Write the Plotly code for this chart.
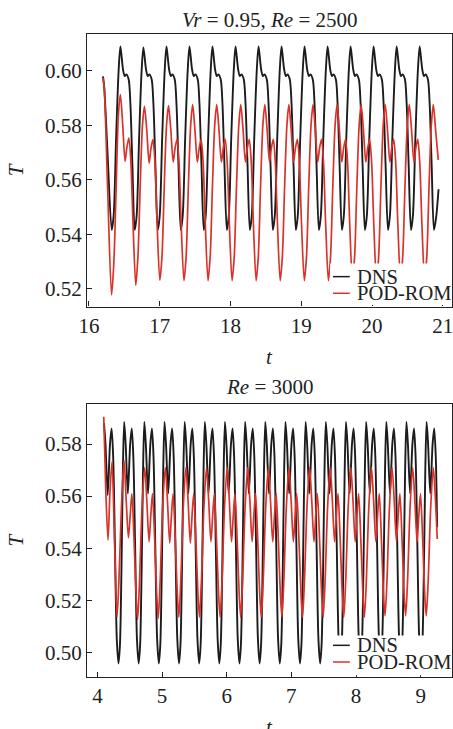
import plotly.graph_objects as go
from plotly.subplots import make_subplots

# ---------------- Panel A: Vr = 0.95, Re = 2500 ----------------
t_dns_a = [
    16.198, 16.215, 16.262,
    16.321, 16.349, 16.383, 16.419, 16.444, 16.481, 16.505, 16.529, 16.561, 16.585, 16.614,
    16.646, 16.674, 16.708, 16.744, 16.769, 16.806, 16.830, 16.854, 16.886, 16.910, 16.939,
    16.972, 17.000, 17.034, 17.070, 17.095, 17.132, 17.156, 17.180, 17.212, 17.236, 17.265,
    17.297, 17.325, 17.359, 17.395, 17.420, 17.457, 17.481, 17.505, 17.537, 17.561, 17.590,
    17.622, 17.650, 17.684, 17.720, 17.745, 17.782, 17.806, 17.830, 17.862, 17.886, 17.915,
    17.948, 17.976, 18.010, 18.046, 18.071, 18.108, 18.132, 18.156, 18.188, 18.212, 18.241,
    18.273, 18.301, 18.335, 18.371, 18.396, 18.433, 18.457, 18.481, 18.513, 18.537, 18.566,
    18.598, 18.626, 18.660, 18.696, 18.721, 18.758, 18.782, 18.806, 18.838, 18.862, 18.891,
    18.923, 18.951, 18.985, 19.021, 19.046, 19.083, 19.107, 19.131, 19.163, 19.187, 19.216,
    19.249, 19.277, 19.311, 19.347, 19.372, 19.409, 19.433, 19.457, 19.489, 19.513, 19.542,
    19.574, 19.602, 19.636, 19.672, 19.697, 19.734, 19.758, 19.782, 19.814, 19.838, 19.867,
    19.899, 19.927, 19.961, 19.997, 20.022, 20.059, 20.083, 20.107, 20.139, 20.163, 20.192,
    20.225, 20.253, 20.287, 20.323, 20.348, 20.385, 20.409, 20.433, 20.465, 20.489, 20.518,
    20.550, 20.578, 20.612, 20.648, 20.673, 20.710, 20.734, 20.758, 20.790, 20.814, 20.843,
    20.875, 20.905, 20.940,
]
T_dns_a = [
    0.5979, 0.5940, 0.5700,
    0.5416, 0.5470, 0.5750, 0.6000, 0.6088, 0.6004, 0.5980, 0.5986, 0.5967, 0.5880, 0.5650,
    0.5416, 0.5470, 0.5750, 0.6000, 0.6085, 0.6004, 0.5980, 0.5986, 0.5967, 0.5880, 0.5650,
    0.5416, 0.5470, 0.5750, 0.6000, 0.6088, 0.6004, 0.5980, 0.5986, 0.5967, 0.5880, 0.5650,
    0.5416, 0.5470, 0.5750, 0.6000, 0.6088, 0.6004, 0.5980, 0.5986, 0.5967, 0.5880, 0.5650,
    0.5416, 0.5470, 0.5750, 0.6000, 0.6088, 0.6004, 0.5980, 0.5986, 0.5967, 0.5880, 0.5650,
    0.5416, 0.5470, 0.5750, 0.6000, 0.6088, 0.6004, 0.5980, 0.5986, 0.5967, 0.5880, 0.5650,
    0.5416, 0.5470, 0.5750, 0.6000, 0.6088, 0.6004, 0.5980, 0.5986, 0.5967, 0.5880, 0.5650,
    0.5416, 0.5470, 0.5750, 0.6000, 0.6088, 0.6004, 0.5980, 0.5986, 0.5967, 0.5880, 0.5650,
    0.5416, 0.5470, 0.5750, 0.6000, 0.6088, 0.6004, 0.5980, 0.5986, 0.5967, 0.5880, 0.5650,
    0.5416, 0.5470, 0.5750, 0.6000, 0.6088, 0.6004, 0.5980, 0.5986, 0.5967, 0.5880, 0.5650,
    0.5416, 0.5470, 0.5750, 0.6000, 0.6088, 0.6004, 0.5980, 0.5986, 0.5967, 0.5880, 0.5650,
    0.5416, 0.5470, 0.5750, 0.6000, 0.6088, 0.6004, 0.5980, 0.5986, 0.5967, 0.5880, 0.5650,
    0.5416, 0.5470, 0.5750, 0.6000, 0.6088, 0.6004, 0.5980, 0.5986, 0.5967, 0.5880, 0.5650,
    0.5416, 0.5470, 0.5750, 0.6000, 0.6088, 0.6004, 0.5980, 0.5986, 0.5967, 0.5880, 0.5650,
    0.5416, 0.5460, 0.5565,
]

t_rom_a = [
    16.198, 16.215, 16.262,
    16.319, 16.352, 16.383, 16.416, 16.444, 16.477, 16.510, 16.536, 16.564, 16.593, 16.621,
    16.661, 16.692, 16.723, 16.756, 16.784, 16.817, 16.850, 16.876, 16.904, 16.933, 16.961,
    17.001, 17.032, 17.063, 17.096, 17.124, 17.157, 17.190, 17.216, 17.244, 17.273, 17.301,
    17.342, 17.373, 17.404, 17.437, 17.465, 17.498, 17.531, 17.557, 17.585, 17.614, 17.642,
    17.682, 17.713, 17.744, 17.777, 17.805, 17.838, 17.871, 17.897, 17.925, 17.954, 17.982,
    18.022, 18.053, 18.084, 18.117, 18.145, 18.178, 18.211, 18.237, 18.265, 18.294, 18.322,
    18.362, 18.393, 18.424, 18.457, 18.485, 18.518, 18.551, 18.577, 18.605, 18.634, 18.662,
    18.702, 18.733, 18.764, 18.797, 18.825, 18.858, 18.891, 18.917, 18.945, 18.974, 19.002,
    19.043, 19.074, 19.105, 19.138, 19.166, 19.199, 19.232, 19.258, 19.286, 19.315, 19.343,
    19.383, 19.414, 19.445, 19.478, 19.506, 19.539, 19.572, 19.598, 19.626, 19.655, 19.683,
    19.723, 19.754, 19.785, 19.818, 19.846, 19.879, 19.912, 19.938, 19.966, 19.995, 20.023,
    20.063, 20.094, 20.125, 20.158, 20.186, 20.219, 20.252, 20.278, 20.306, 20.335, 20.363,
    20.403, 20.434, 20.465, 20.498, 20.526, 20.559, 20.592, 20.618, 20.646, 20.675, 20.703,
    20.743, 20.774, 20.805, 20.838, 20.866, 20.899, 20.936,
]
T_rom_a = [
    0.5973, 0.5940, 0.5580,
    0.5178, 0.5300, 0.5560, 0.5840, 0.5912, 0.5800, 0.5667, 0.5720, 0.5753, 0.5660, 0.5450,
    0.5214, 0.5320, 0.5570, 0.5800, 0.5869, 0.5780, 0.5661, 0.5715, 0.5747, 0.5660, 0.5450,
    0.5232, 0.5320, 0.5570, 0.5800, 0.5872, 0.5780, 0.5665, 0.5715, 0.5748, 0.5660, 0.5450,
    0.5230, 0.5320, 0.5570, 0.5800, 0.5875, 0.5780, 0.5665, 0.5715, 0.5748, 0.5660, 0.5450,
    0.5230, 0.5320, 0.5570, 0.5800, 0.5875, 0.5780, 0.5665, 0.5715, 0.5748, 0.5660, 0.5450,
    0.5230, 0.5320, 0.5570, 0.5800, 0.5875, 0.5780, 0.5665, 0.5715, 0.5748, 0.5660, 0.5450,
    0.5230, 0.5320, 0.5570, 0.5800, 0.5875, 0.5780, 0.5665, 0.5715, 0.5748, 0.5660, 0.5450,
    0.5230, 0.5320, 0.5570, 0.5800, 0.5875, 0.5780, 0.5665, 0.5715, 0.5748, 0.5660, 0.5450,
    0.5230, 0.5320, 0.5570, 0.5800, 0.5875, 0.5780, 0.5665, 0.5715, 0.5748, 0.5660, 0.5450,
    0.5230, 0.5320, 0.5570, 0.5800, 0.5875, 0.5780, 0.5665, 0.5715, 0.5748, 0.5660, 0.5450,
    0.5230, 0.5320, 0.5570, 0.5800, 0.5875, 0.5780, 0.5665, 0.5715, 0.5748, 0.5660, 0.5450,
    0.5230, 0.5320, 0.5570, 0.5800, 0.5875, 0.5780, 0.5665, 0.5715, 0.5748, 0.5660, 0.5450,
    0.5230, 0.5320, 0.5570, 0.5800, 0.5875, 0.5780, 0.5665, 0.5715, 0.5748, 0.5660, 0.5450,
    0.5230, 0.5320, 0.5570, 0.5800, 0.5875, 0.5780, 0.5673,
]

# ---------------- Panel B: Re = 3000 ----------------
t_dns_b = [
    4.102, 4.125, 4.159, 4.195, 4.220, 4.244, 4.272, 4.300,
    4.326, 4.349, 4.371, 4.394, 4.414, 4.437, 4.471, 4.507, 4.532, 4.556, 4.584, 4.612,
    4.638, 4.661, 4.683, 4.706, 4.726, 4.749, 4.783, 4.819, 4.844, 4.868, 4.896, 4.924,
    4.950, 4.973, 4.995, 5.018, 5.038, 5.061, 5.095, 5.131, 5.156, 5.180, 5.208, 5.236,
    5.262, 5.285, 5.307, 5.330, 5.350, 5.373, 5.407, 5.443, 5.468, 5.492, 5.520, 5.548,
    5.574, 5.597, 5.619, 5.642, 5.662, 5.685, 5.719, 5.755, 5.780, 5.804, 5.832, 5.860,
    5.885, 5.908, 5.930, 5.953, 5.973, 5.996, 6.030, 6.066, 6.091, 6.115, 6.143, 6.171,
    6.197, 6.220, 6.242, 6.265, 6.285, 6.308, 6.342, 6.378, 6.403, 6.427, 6.455, 6.483,
    6.509, 6.532, 6.554, 6.577, 6.597, 6.620, 6.654, 6.690, 6.715, 6.739, 6.767, 6.795,
    6.821, 6.844, 6.866, 6.889, 6.909, 6.932, 6.966, 7.002, 7.027, 7.051, 7.079, 7.107,
    7.133, 7.156, 7.178, 7.201, 7.221, 7.244, 7.278, 7.314, 7.339, 7.363, 7.391, 7.419,
    7.445, 7.468, 7.490, 7.513, 7.533, 7.556, 7.590, 7.626, 7.651, 7.675, 7.703, 7.731,
    7.757, 7.780, 7.802, 7.825, 7.845, 7.868, 7.902, 7.938, 7.963, 7.987, 8.015, 8.043,
    8.069, 8.092, 8.114, 8.137, 8.157, 8.180, 8.214, 8.250, 8.275, 8.299, 8.327, 8.355,
    8.381, 8.404, 8.426, 8.449, 8.469, 8.492, 8.526, 8.562, 8.587, 8.611, 8.639, 8.667,
    8.692, 8.715, 8.737, 8.760, 8.780, 8.803, 8.837, 8.873, 8.898, 8.922, 8.950, 8.978,
    9.004, 9.027, 9.049, 9.072, 9.092, 9.115, 9.149, 9.185, 9.210, 9.234, 9.255,
]
T_dns_b = [
    0.5880, 0.5800, 0.5604, 0.5800, 0.5860, 0.5750, 0.5400, 0.5050,
    0.4957, 0.5030, 0.5300, 0.5700, 0.5885, 0.5800, 0.5610, 0.5800, 0.5860, 0.5750, 0.5400, 0.5050,
    0.4957, 0.5030, 0.5300, 0.5700, 0.5885, 0.5800, 0.5610, 0.5800, 0.5860, 0.5750, 0.5400, 0.5050,
    0.4957, 0.5030, 0.5300, 0.5700, 0.5885, 0.5800, 0.5610, 0.5800, 0.5860, 0.5750, 0.5400, 0.5050,
    0.4957, 0.5030, 0.5300, 0.5700, 0.5885, 0.5800, 0.5610, 0.5800, 0.5860, 0.5750, 0.5400, 0.5050,
    0.4957, 0.5030, 0.5300, 0.5700, 0.5885, 0.5800, 0.5610, 0.5800, 0.5860, 0.5750, 0.5400, 0.5050,
    0.4957, 0.5030, 0.5300, 0.5700, 0.5885, 0.5800, 0.5610, 0.5800, 0.5860, 0.5750, 0.5400, 0.5050,
    0.4957, 0.5030, 0.5300, 0.5700, 0.5885, 0.5800, 0.5610, 0.5800, 0.5860, 0.5750, 0.5400, 0.5050,
    0.4957, 0.5030, 0.5300, 0.5700, 0.5885, 0.5800, 0.5610, 0.5800, 0.5860, 0.5750, 0.5400, 0.5050,
    0.4957, 0.5030, 0.5300, 0.5700, 0.5885, 0.5800, 0.5610, 0.5800, 0.5860, 0.5750, 0.5400, 0.5050,
    0.4957, 0.5030, 0.5300, 0.5700, 0.5885, 0.5800, 0.5610, 0.5800, 0.5860, 0.5750, 0.5400, 0.5050,
    0.4957, 0.5030, 0.5300, 0.5700, 0.5885, 0.5800, 0.5610, 0.5800, 0.5860, 0.5750, 0.5400, 0.5050,
    0.4957, 0.5030, 0.5300, 0.5700, 0.5885, 0.5800, 0.5610, 0.5800, 0.5860, 0.5750, 0.5400, 0.5050,
    0.4957, 0.5030, 0.5300, 0.5700, 0.5885, 0.5800, 0.5610, 0.5800, 0.5860, 0.5750, 0.5400, 0.5050,
    0.4957, 0.5030, 0.5300, 0.5700, 0.5885, 0.5800, 0.5610, 0.5800, 0.5860, 0.5750, 0.5400, 0.5050,
    0.4957, 0.5030, 0.5300, 0.5700, 0.5885, 0.5800, 0.5610, 0.5800, 0.5860, 0.5750, 0.5400, 0.5050,
    0.4957, 0.5030, 0.5300, 0.5700, 0.5885, 0.5800, 0.5610, 0.5800, 0.5860, 0.5750, 0.5480,
]

t_rom_b = [
    4.098, 4.130, 4.164, 4.195, 4.226, 4.262,
    4.303, 4.332, 4.372, 4.412, 4.446, 4.480, 4.508, 4.533, 4.567, 4.597,
    4.622, 4.651, 4.691, 4.731, 4.765, 4.799, 4.827, 4.852, 4.886, 4.916,
    4.941, 4.970, 5.010, 5.050, 5.084, 5.118, 5.146, 5.171, 5.205, 5.235,
    5.260, 5.289, 5.329, 5.369, 5.403, 5.437, 5.465, 5.490, 5.524, 5.554,
    5.579, 5.608, 5.648, 5.688, 5.722, 5.756, 5.784, 5.809, 5.843, 5.873,
    5.898, 5.927, 5.967, 6.007, 6.041, 6.075, 6.103, 6.128, 6.162, 6.192,
    6.216, 6.245, 6.285, 6.325, 6.359, 6.393, 6.421, 6.446, 6.480, 6.510,
    6.535, 6.564, 6.604, 6.644, 6.678, 6.712, 6.740, 6.765, 6.799, 6.829,
    6.854, 6.883, 6.923, 6.963, 6.997, 7.031, 7.059, 7.084, 7.118, 7.148,
    7.173, 7.202, 7.242, 7.282, 7.316, 7.350, 7.378, 7.403, 7.437, 7.467,
    7.492, 7.521, 7.561, 7.601, 7.635, 7.669, 7.697, 7.722, 7.756, 7.786,
    7.811, 7.840, 7.880, 7.920, 7.954, 7.988, 8.016, 8.041, 8.075, 8.105,
    8.130, 8.159, 8.199, 8.239, 8.273, 8.307, 8.335, 8.360, 8.394, 8.424,
    8.449, 8.478, 8.518, 8.558, 8.592, 8.626, 8.654, 8.679, 8.713, 8.743,
    8.768, 8.797, 8.837, 8.877, 8.911, 8.945, 8.973, 8.998, 9.032, 9.062,
    9.087, 9.116, 9.156, 9.196, 9.230, 9.257,
]
T_rom_b = [
    0.5905, 0.5620, 0.5431, 0.5620, 0.5732, 0.5450,
    0.5136, 0.5270, 0.5560, 0.5738, 0.5580, 0.5440, 0.5530, 0.5610, 0.5430, 0.5230,
    0.5125, 0.5270, 0.5560, 0.5710, 0.5580, 0.5425, 0.5530, 0.5610, 0.5430, 0.5230,
    0.5130, 0.5270, 0.5560, 0.5710, 0.5580, 0.5420, 0.5530, 0.5610, 0.5430, 0.5230,
    0.5135, 0.5270, 0.5560, 0.5710, 0.5580, 0.5420, 0.5530, 0.5610, 0.5430, 0.5230,
    0.5135, 0.5270, 0.5560, 0.5710, 0.5580, 0.5425, 0.5530, 0.5610, 0.5430, 0.5230,
    0.5135, 0.5270, 0.5560, 0.5710, 0.5580, 0.5425, 0.5530, 0.5610, 0.5430, 0.5230,
    0.5135, 0.5270, 0.5560, 0.5710, 0.5580, 0.5425, 0.5530, 0.5610, 0.5430, 0.5230,
    0.5135, 0.5270, 0.5560, 0.5710, 0.5580, 0.5425, 0.5530, 0.5610, 0.5430, 0.5230,
    0.5135, 0.5270, 0.5560, 0.5710, 0.5580, 0.5425, 0.5530, 0.5610, 0.5430, 0.5230,
    0.5135, 0.5270, 0.5560, 0.5710, 0.5580, 0.5425, 0.5530, 0.5610, 0.5430, 0.5230,
    0.5135, 0.5270, 0.5560, 0.5710, 0.5580, 0.5425, 0.5530, 0.5610, 0.5430, 0.5230,
    0.5135, 0.5270, 0.5560, 0.5710, 0.5580, 0.5425, 0.5530, 0.5610, 0.5430, 0.5230,
    0.5135, 0.5270, 0.5560, 0.5710, 0.5580, 0.5425, 0.5530, 0.5610, 0.5430, 0.5230,
    0.5140, 0.5270, 0.5560, 0.5710, 0.5580, 0.5425, 0.5530, 0.5610, 0.5430, 0.5230,
    0.5140, 0.5270, 0.5560, 0.5710, 0.5580, 0.5425, 0.5530, 0.5610, 0.5430, 0.5230,
    0.5140, 0.5270, 0.5560, 0.5710, 0.5580, 0.5435,
]

series_names = ["DNS", "POD-ROM"]
panel_titles = ["<i>Vr</i> = 0.95, <i>Re</i> = 2500", "<i>Re</i> = 3000"]
xticks_a = [16, 17, 18, 19, 20, 21]
yticks_a = [0.52, 0.54, 0.56, 0.58, 0.60]
xticks_b = [4, 5, 6, 7, 8, 9]
yticks_b = [0.50, 0.52, 0.54, 0.56, 0.58]

BLACK = "#1c1c1c"
RED = "#d8332b"
FONT = "Liberation Serif, Times New Roman, serif"
TXT = "#222"

fig = make_subplots(rows=2, cols=1)
for (tx, ty, name, col, w, r) in [
    (t_dns_a, T_dns_a, series_names[0], BLACK, 1.9, 1),
    (t_rom_a, T_rom_a, series_names[1], RED, 1.7, 1),
    (t_dns_b, T_dns_b, series_names[0], BLACK, 1.9, 2),
    (t_rom_b, T_rom_b, series_names[1], RED, 1.7, 2),
]:
    fig.add_trace(go.Scatter(x=tx, y=ty, mode="lines", name=name,
                             line=dict(color=col, width=w, shape="spline", smoothing=0.8)),
                  row=r, col=1)

fig.update_layout(
    width=453, height=729,
    margin=dict(l=87, r=1, t=34, b=52),
    paper_bgcolor="white", plot_bgcolor="white",
    showlegend=False,
    font=dict(family=FONT, size=21, color=TXT),
    xaxis=dict(domain=[0, 1], range=[15.972, 21.13], tickvals=xticks_a),
    yaxis=dict(domain=[0.576, 1.0], range=[0.5135, 0.6134], tickvals=yticks_a, tickformat=".2f"),
    xaxis2=dict(domain=[0, 1], range=[3.839, 9.485], tickvals=xticks_b),
    yaxis2=dict(domain=[0.0, 0.4246], range=[0.4905, 0.5954], tickvals=yticks_b, tickformat=".2f"),
)
common = dict(showline=True, mirror=True, linecolor=TXT, linewidth=1.3,
              ticks="inside", ticklen=5, tickwidth=1.2, tickcolor=TXT,
              showgrid=False, zeroline=False, ticklabeloverflow="allow",
              tickfont=dict(family=FONT, size=21, color=TXT))
fig.update_xaxes(**common)
fig.update_yaxes(**common)

annotations = []
shapes = []
legend_y = [(0.110, 0.049, 0.158), (0.116, 0.055, 0.152)]
for i, (xr, yr) in enumerate([("x", "y"), ("x2", "y2")]):
    xd, yd = xr + " domain", yr + " domain"
    annotations.append(dict(xref=xd, yref=yd, x=0.5, y=1, yshift=14 if i == 0 else 17,
                            text=panel_titles[i], showarrow=False, yanchor="middle",
                            font=dict(family=FONT, size=21, color=TXT)))
    annotations.append(dict(xref=xd, yref=yd, x=0.5, y=0, yshift=-50,
                            text="<i>t</i>", showarrow=False, yanchor="middle",
                            font=dict(family=FONT, size=21, color=TXT)))
    annotations.append(dict(xref=xd, yref=yd, x=0, y=0.5, xshift=-71,
                            text="<i>T</i>", showarrow=False, textangle=-90,
                            xanchor="center", yanchor="middle",
                            font=dict(family=FONT, size=21, color=TXT)))
    y1, y2, ytop = legend_y[i]
    shapes.append(dict(type="rect", xref=xd, yref=yd, x0=0.666, x1=0.996, y0=0.006, y1=ytop,
                       fillcolor="white", line=dict(width=0), layer="above"))
    for yy, col, name in [(y1, BLACK, series_names[0]), (y2, RED, series_names[1])]:
        shapes.append(dict(type="line", xref=xd, yref=yd, x0=0.674, x1=0.720, y0=yy, y1=yy,
                           line=dict(color=col, width=1.5), layer="above"))
        annotations.append(dict(xref=xd, yref=yd, x=0.733, y=yy, text=name, showarrow=False,
                                xanchor="left", yanchor="middle", height=16, valign="middle",
                                font=dict(family=FONT, size=20.5, color=TXT)))

fig.update_layout(annotations=annotations, shapes=shapes)
fig.write_html("out.html")
